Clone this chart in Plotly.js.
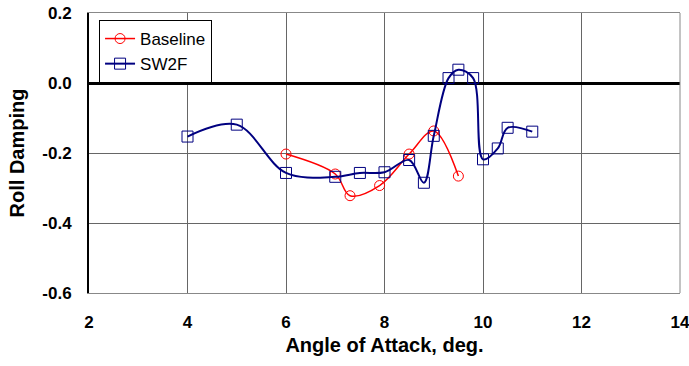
<!DOCTYPE html>
<html><head><meta charset="utf-8">
<script src="https://cdn.plot.ly/plotly-3.0.1.min.js"></script>
<style>html,body{margin:0;padding:0;background:#fff}#chart{width:689px;height:366px}</style>
</head><body><div id="chart"></div>
<script>
const baselineAoA = [6, 7, 7.3, 7.9, 8.5, 9, 9.5];
const baselineDamping = [-0.203, -0.26, -0.322, -0.293, -0.203, -0.137, -0.266];
const sw2fAoA = [4, 5, 6, 7, 7.5, 8, 8.5, 8.8, 9, 9.3, 9.5, 9.8, 10, 10.3, 10.5, 11];
const sw2fDamping = [-0.153, -0.119, -0.257, -0.268, -0.257, -0.255, -0.220, -0.285, -0.151, 0.014, 0.038, 0.014, -0.218, -0.187, -0.128, -0.139];
const xTicks = [2, 4, 6, 8, 10, 12, 14];
const yTicks = [0.2, 0.0, -0.2, -0.4, -0.6];
const yTickText = ['0.2', '0.0', '-0.2', '-0.4', '-0.6'];

const traces = [
  {x: baselineAoA, y: baselineDamping, name: 'Baseline', mode: 'lines+markers',
   line: {color: '#FF0000', width: 1.5, shape: 'spline', smoothing: 1},
   marker: {symbol: 'circle-open', size: 10, color: '#FF0000', line: {width: 1}}},
  {x: sw2fAoA, y: sw2fDamping, name: 'SW2F', mode: 'lines+markers',
   line: {color: '#000080', width: 2, shape: 'spline', smoothing: 1},
   marker: {symbol: 'square-open', size: 11, color: '#000080', line: {width: 1}}}
];
const layout = {
  width: 689, height: 366,
  margin: {l: 89, r: 9, t: 13, b: 73},
  paper_bgcolor: '#fff', plot_bgcolor: '#fff',
  font: {family: 'Liberation Sans, Arial, sans-serif', color: '#000'},
  showlegend: true,
  legend: {x: 0.017, y: 0.975, xanchor: 'left', yanchor: 'top', bgcolor: '#fff',
    bordercolor: '#000', borderwidth: 1, font: {size: 17, color: '#000'}, tracegroupgap: 0},
  xaxis: {range: [2, 14], tickvals: xTicks, ticktext: xTicks.map(String), showgrid: true,
    gridcolor: '#666', gridwidth: 1, showline: true, linecolor: '#888', linewidth: 1, mirror: true,
    ticks: '', ticklabelstandoff: 14, zeroline: false, ticklabeloverflow: 'allow',
    tickfont: {size: 17, family: 'Liberation Sans, Arial, sans-serif', weight: 'bold'},
    title: {text: '<b>Angle of Attack, deg.</b>', font: {size: 20}, standoff: 6}},
  yaxis: {range: [-0.6, 0.2], tickvals: yTicks, ticktext: yTickText, showgrid: true,
    gridcolor: '#666', gridwidth: 1, showline: true, linecolor: '#000', linewidth: 2,
    ticks: '', ticklabelstandoff: 12, zeroline: true, zerolinecolor: '#000', zerolinewidth: 3,
    tickfont: {size: 17, family: 'Liberation Sans, Arial, sans-serif', weight: 'bold'},
    title: {text: '<b>Roll Damping</b>', font: {size: 20}, standoff: 12}},
  shapes: [{type: 'line', xref: 'paper', yref: 'paper', x0: 1, x1: 1, y0: 0, y1: 1,
    line: {color: '#888', width: 1}}]
};
Plotly.newPlot('chart', traces, layout, {displayModeBar: false, staticPlot: true});
</script></body></html>
